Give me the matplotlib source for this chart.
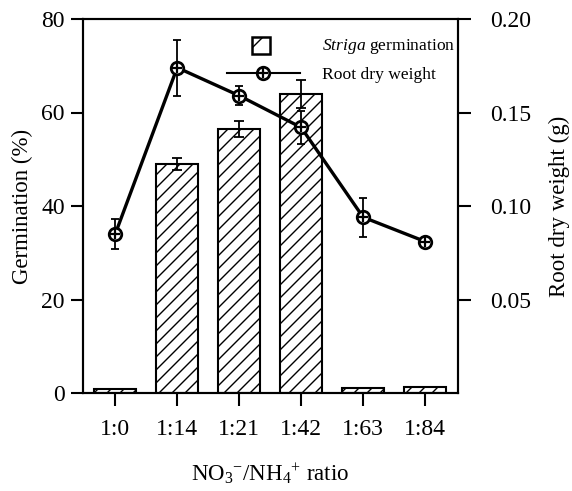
import matplotlib
matplotlib.use("Agg")
import matplotlib.pyplot as plt
import numpy as np
from matplotlib.patches import Rectangle
from matplotlib.lines import Line2D
from matplotlib.collections import LineCollection
from matplotlib.transforms import IdentityTransform

plt.rcParams['font.family'] = ['Liberation Serif', 'DejaVu Serif']
plt.rcParams['mathtext.fontset'] = 'custom'
plt.rcParams['mathtext.rm'] = 'Liberation Serif'
plt.rcParams['mathtext.it'] = 'Liberation Serif:italic'

# ---- data ----
categories = ['1:0', '1:14', '1:21', '1:42', '1:63', '1:84']
germination = [0.8, 49.0, 56.4, 64.0, 1.0, 1.3]
germination_err = [0.0, 1.3, 1.7, 3.0, 0.0, 0.0]
root_weight = [0.085, 0.174, 0.159, 0.142, 0.094, 0.081]
root_weight_err = [0.008, 0.015, 0.005, 0.009, 0.0105, 0.0]
left_ticks = [0, 20, 40, 60, 80]
right_ticks = [0.05, 0.10, 0.15, 0.20]
right_ticklabels = ['0.05', '0.10', '0.15', '0.20']

W, H = 572, 491
fig = plt.figure(figsize=(W / 100, H / 100), dpi=100)
L, R, T, B = 83, 458, 19, 393
ax = fig.add_axes([L / W, 1 - B / H, (R - L) / W, (B - T) / H])
x = np.arange(len(categories))

bars = ax.bar(x, germination, width=0.67, facecolor='white', edgecolor='black',
              linewidth=1.5, zorder=2)
ax.errorbar(x, germination, yerr=germination_err, fmt='none', ecolor='black',
            elinewidth=1.3, capsize=3.6, capthick=1.3, zorder=3)

ax.set_xlim(-0.52, 5.53)
ax.set_ylim(0, 80)
ax.set_yticks(left_ticks)
ax.set_xticks(x)
ax.set_xticklabels(categories)
ax.tick_params(axis='both', direction='out', length=9, width=1.5, labelsize=17)
ax.tick_params(axis='y', pad=4)
ax.tick_params(axis='x', pad=10)
for s in ax.spines.values():
    s.set_linewidth(1.5)
ax.set_ylabel('Germination (%)', fontsize=16.5, labelpad=6)
ax.set_xlabel(r'NO$_3$$^{-}$/NH$_4$$^{+}$ ratio', fontsize=16.5, labelpad=15)

# custom hatching (13 px spacing) clipped to each bar
fig.canvas.draw()
segs = []
for c in np.arange(-600, 700, 13.0):
    segs.append([(L + c - 50, H - B - 50), (L + c + 500, H - B + 500)])
for b in bars:
    lc = LineCollection(segs, colors='black', linewidths=1.0,
                        transform=IdentityTransform(), zorder=2.5)
    ax.add_collection(lc)
    lc.set_clip_path(b)

ax2 = ax.twinx()
ax2.set_ylim(0, 0.20)
ax2.set_yticks(right_ticks)
ax2.set_yticklabels(right_ticklabels)
ax2.tick_params(axis='y', direction='out', length=9, width=1.5, labelsize=17, pad=14)
for s in ax2.spines.values():
    s.set_linewidth(1.5)
ax2.set_ylabel('Root dry weight (g)', fontsize=16.5, labelpad=13)

ax2.errorbar(x, root_weight, yerr=root_weight_err, fmt='none', ecolor='black',
             elinewidth=1.3, capsize=3.2, capthick=1.3, zorder=3)
ax2.plot(x, root_weight, color='black', linewidth=2.4, zorder=4)
ax2.plot(x, root_weight, linestyle='none', marker='o', markersize=9,
         markerfacecolor='white', markeredgecolor='black', markeredgewidth=2.0, zorder=5)
ax2.plot(x, root_weight, linestyle='none', marker='+', markersize=6.5,
         markeredgecolor='black', markeredgewidth=1.6, zorder=6)

# legend (manual)
def fx(px):
    return (px - L) / (R - L)

def fy(py):
    return (B - py) / (B - T)

sq = Rectangle((fx(252), fy(54)), fx(270) - fx(252), fy(37) - fy(54),
               transform=ax2.transAxes, facecolor='white', edgecolor='black',
               linewidth=1.8, hatch='/', zorder=7)
ax2.add_patch(sq)
ax2.add_line(Line2D([fx(227), fx(300)], [fy(73), fy(73)], transform=ax2.transAxes,
                    color='black', linewidth=1.5, zorder=7))
ax2.plot([fx(263)], [fy(73)], transform=ax2.transAxes, marker='o', markersize=9,
         markerfacecolor='white', markeredgecolor='black', markeredgewidth=2.0, zorder=8)
ax2.plot([fx(263)], [fy(73)], transform=ax2.transAxes, marker='+', markersize=6.5,
         markeredgecolor='black', markeredgewidth=1.6, zorder=9)
ax2.text(fx(322), fy(46), r'$\it{Striga}$ germination', transform=ax2.transAxes,
         fontsize=12.6, va='center', ha='left', zorder=9)
ax2.text(fx(322), fy(75), 'Root dry weight', transform=ax2.transAxes,
         fontsize=12.6, va='center', ha='left', zorder=9)

fig.savefig('out.png', dpi=100)
